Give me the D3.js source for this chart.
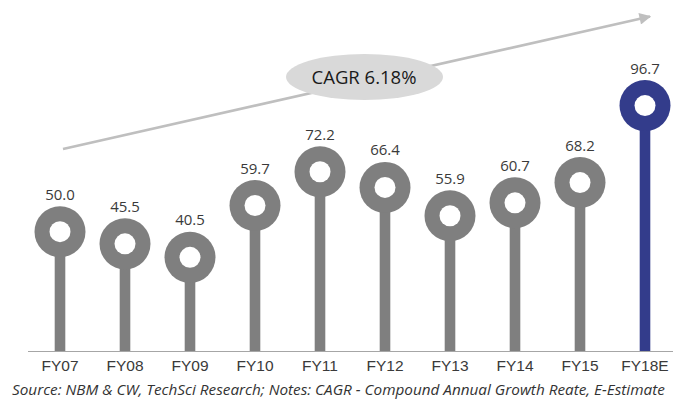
<!DOCTYPE html>
<html>
<head>
<meta charset="utf-8">
<script src="https://cdn.jsdelivr.net/npm/d3@7"></script>
<style>
  body { margin: 0; background: #fff; }
  svg { display: block; font-family: "Open Sans", sans-serif; }
  .axis text { font-size: 15.5px; fill: #3a3a3a; }
</style>
</head>
<body>
<div class="chart"></div>
<script>
// data
var years = ["FY07", "FY08", "FY09", "FY10", "FY11", "FY12", "FY13", "FY14", "FY15", "FY18E"];
var values = [50.0, 45.5, 40.5, 59.7, 72.2, 66.4, 55.9, 60.7, 68.2, 96.7];
var labels = ["50.0", "45.5", "40.5", "59.7", "72.2", "66.4", "55.9", "60.7", "68.2", "96.7"];
var cagrText = "CAGR 6.18%";
var sourceText = "Source: NBM & CW, TechSci Research; Notes: CAGR - Compound Annual Growth Reate, E-Estimate";

var svgWidth = 673;
var svgHeight = 402;
var baseY = 351;

var svg = d3.select(".chart")
  .append("svg")
  .attr("width", svgWidth)
  .attr("height", svgHeight);

var data = years.map(function(y, i) {
  return { year: y, value: values[i], label: labels[i] };
});

// scales
var xScale = d3.scaleBand()
  .domain(years)
  .range([27.5, 677.5]);

var yScale = d3.scaleLinear()
  .domain([0, 100])
  .range([366.7, 96.7]);

var cx = function(d) { return xScale(d.year) + xScale.bandwidth() / 2; };
var colour = function(d) { return d.year === "FY18E" ? "#333c8b" : "#7f7f7f"; };

// growth arrow
svg.append("defs").append("marker")
  .attr("id", "head")
  .attr("viewBox", "0 0 10 10")
  .attr("refX", 9)
  .attr("refY", 5)
  .attr("markerWidth", 6)
  .attr("markerHeight", 4.5)
  .attr("markerUnits", "strokeWidth")
  .attr("orient", "auto")
  .append("path")
  .attr("d", "M0,0 L10,5 L0,10 Z")
  .attr("fill", "#bfbfbf");

svg.append("line")
  .attr("x1", 63)
  .attr("y1", 149)
  .attr("x2", 650)
  .attr("y2", 16.5)
  .attr("stroke", "#bfbfbf")
  .attr("stroke-width", 2.6)
  .attr("marker-end", "url(#head)");

// CAGR bubble
svg.append("ellipse")
  .attr("cx", 364.5)
  .attr("cy", 77)
  .attr("rx", 78.5)
  .attr("ry", 23)
  .attr("fill", "#d9d9d9");

svg.append("text")
  .attr("x", 364)
  .attr("y", 83.5)
  .attr("text-anchor", "middle")
  .style("font-size", "18.5px")
  .style("fill", "#1a1a1a")
  .text(cagrText);

// axis
var xAxis = d3.axisBottom(xScale).tickSize(0).tickPadding(9);

var axisGroup = svg.append("g")
  .attr("class", "axis")
  .attr("transform", `translate(0, ${baseY})`)
  .call(xAxis);

axisGroup.select(".domain").attr("stroke", "#a6a6a6").attr("stroke-width", 1.2);

// stems
svg.selectAll(".stem")
  .data(data)
  .enter()
  .append("rect")
  .attr("class", "stem")
  .attr("x", d => cx(d) - 5.3)
  .attr("width", 10.6)
  .attr("y", d => yScale(d.value))
  .attr("height", d => baseY - yScale(d.value))
  .attr("fill", colour);

// rings
svg.selectAll(".outer")
  .data(data)
  .enter()
  .append("circle")
  .attr("class", "outer")
  .attr("cx", cx)
  .attr("cy", d => yScale(d.value))
  .attr("r", 25.5)
  .attr("fill", colour);

svg.selectAll(".inner")
  .data(data)
  .enter()
  .append("circle")
  .attr("class", "inner")
  .attr("cx", cx)
  .attr("cy", d => yScale(d.value))
  .attr("r", 10.5)
  .attr("fill", "#fff");

// value labels
svg.selectAll(".val")
  .data(data)
  .enter()
  .append("text")
  .attr("class", "val")
  .attr("x", cx)
  .attr("y", d => yScale(d.value) - 32)
  .attr("text-anchor", "middle")
  .style("font-size", "15px")
  .style("fill", "#3a3a3a")
  .text(d => d.label);

// source note
svg.append("text")
  .attr("x", 12)
  .attr("y", 395)
  .style("font-size", "15.3px")
  .style("font-style", "italic")
  .style("fill", "#333")
  .text(sourceText);
</script>
</body>
</html>
